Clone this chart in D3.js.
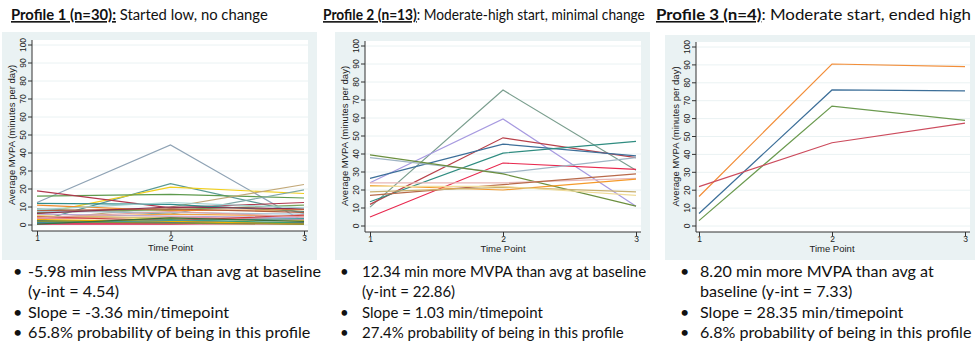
<!DOCTYPE html>
<html>
<head>
<meta charset="utf-8">
<script src="https://cdn.jsdelivr.net/npm/d3@7"></script>
<style>
  body { margin: 0; background: #fff; }
  svg { display: block; }
  .axis text { font-family: Arial, "Liberation Sans", sans-serif; font-size: 8.5px; fill: #222; }
  .axis line { stroke: #333; }
  .axis path { display: none; }
  .copy { font-family: Lato, "Open Sans", sans-serif; fill: #111; }
</style>
</head>
<body>
<div id="chart"></div>
<script>
// ---- data ----
const timePoints = [1, 2, 3];
const yTicks = [0, 10, 20, 30, 40, 50, 60, 70, 80, 90, 100];

// Profile 1 (n=30): one row per participant, MVPA at time 1,2,3
const profile1 = [
  [12.5, 44.5, 2], [2, 23, 6.5], [6, 21, 17.5], [16, 17, 15], [19, 9.5, 12.5],
  [3, 10, 22.5], [9, 6, 19.5], [12, 11.5, 7.5], [11, 8, 8.5], [7, 8.5, 11],
  [8, 9, 7], [5, 3.5, 2.5], [4, 6, 5], [2.5, 2, 1], [1, 1, 0.5],
  [6, 5, 4], [3.5, 4.5, 3], [1.5, 1.5, 1.5], [0.5, 0.5, 1], [7.5, 7, 6],
  [5, 4, 2], [2, 3, 1], [4.5, 2.5, 5.5], [6.5, 10, 9], [3, 2, 0.5],
  [1, 2.5, 3.5], [8.5, 12.5, 9.5], [2, 1, 0.5], [4, 7.5, 4.5], [0.5, 4, 2]
];
const colors1 = [
  '#8fa3b5', '#5a9a94', '#f2cf1d', '#5e9a4e', '#b0384e',
  '#c2a878', '#7fa8a6', '#2f8c8c', '#f08a2c', '#7aa35a',
  '#b06040', '#f5d000', '#f2a541', '#1f4b7a', '#e0304a',
  '#b7a6d8', '#e890a0', '#3a6fa0', '#d6204a', '#a8c4d8',
  '#d4c27a', '#3aa070', '#d04040', '#8a3050', '#f0b000',
  '#40a0a0', '#a0d0d0', '#809040', '#e0a0a0', '#3a7040'
];

// Profile 2 (n=13)
const profile2 = [
  [10.5, 75.5, 31], [24, 59.5, 11], [12, 49, 38], [26.5, 45.5, 39], [13.5, 40.5, 47],
  [5, 35, 31.5], [38, 29.5, 38], [39.5, 29, 11], [24, 24, 26.5], [17, 23, 29],
  [22.5, 20, 26], [19, 21.5, 19], [22, 22, 17]
];
const colors2 = [
  '#7a9e8e', '#a79ae0', '#b8404a', '#3d6f99', '#2f8c80',
  '#e8294f', '#9fb4c4', '#6b8f3e', '#e8b8b8', '#b86a4a',
  '#f59a2a', '#c9b070', '#f0dc9a'
];

// Profile 3 (n=4)
const profile3 = [
  [16.5, 90.5, 89], [7, 76, 75.5], [3, 67, 59], [22, 46.5, 57.5]
];
const colors3 = ['#f28e3a', '#3d6f99', '#6b9a4f', '#cc4b5d'];

const titleBold = ['Profile 1 (n=30):', 'Profile 2 (n=13)', 'Profile 3 (n=4)'];
const titleRest = [' Started low, no change', ': Moderate-high start, minimal change', ': Moderate start, ended high'];

const bullets = [
  [['-5.98 min less MVPA than avg at baseline', '(y-int = 4.54)'], ['Slope = -3.36 min/timepoint'], ['65.8% probability of being in this profile']],
  [['12.34 min more MVPA than avg at baseline', '(y-int = 22.86)'], ['Slope = 1.03 min/timepoint'], ['27.4% probability of being in this profile']],
  [['8.20 min more MVPA than avg at', 'baseline (y-int = 7.33)'], ['Slope = 28.35 min/timepoint'], ['6.8% probability of being in this profile']]
];

// ---- layout ----
const panels = [
  { series: profile1, colors: colors1, bg: [2, 32, 315, 228], axisX: 32, top: 40, base: 231, right: 308, y0: 225, y100: 45, x1: 37, x3: 304, titleX: 11, titleW: 257, bulletX: 13, textX: 28, fs: 16.2 },
  { series: profile2, colors: colors2, bg: [335, 32, 315, 228], axisX: 365, top: 41, base: 232, right: 641, y0: 226, y100: 46, x1: 370, x3: 636, titleX: 323, titleW: 322, bulletX: 340, textX: 362, fs: 15 },
  { series: profile3, colors: colors3, bg: [665, 35, 310, 225], axisX: 696, top: 42, base: 232, right: 970, y0: 226, y100: 47, x1: 699, x3: 965, titleX: 656, titleW: 315, bulletX: 680, textX: 700, fs: 16.1 }
];

const svg = d3.select('#chart')
  .append('svg')
  .attr('width', 976)
  .attr('height', 347);

svg.append('rect').attr('width', 976).attr('height', 347).attr('fill', '#fff');

panels.forEach((p, pi) => {
  const g = svg.append('g');

  g.append('rect')
    .attr('x', p.bg[0]).attr('y', p.bg[1])
    .attr('width', p.bg[2]).attr('height', p.bg[3])
    .attr('fill', '#eaf2f3');

  g.append('rect')
    .attr('x', p.axisX).attr('y', p.top)
    .attr('width', p.right - p.axisX).attr('height', p.base - p.top)
    .attr('fill', '#fff');

  const xScale = d3.scaleLinear().domain([1, 3]).range([p.x1, p.x3]);
  const yScale = d3.scaleLinear().domain([0, 100]).range([p.y0, p.y100]);

  // grid
  g.append('g')
    .selectAll('line')
    .data(yTicks)
    .join('line')
    .attr('x1', p.axisX).attr('x2', p.right)
    .attr('y1', d => yScale(d)).attr('y2', d => yScale(d))
    .attr('stroke', '#eaf2f3')
    .attr('stroke-width', 1);

  // lines
  const line = d3.line()
    .x((d, i) => xScale(timePoints[i]))
    .y(d => yScale(d));

  g.append('g')
    .selectAll('path')
    .data(p.series)
    .join('path')
    .attr('d', d => line(d))
    .attr('fill', 'none')
    .attr('stroke', (d, i) => p.colors[i % p.colors.length])
    .attr('stroke-width', 1.2);

  // axes
  const yAxis = g.append('g')
    .attr('class', 'axis')
    .attr('transform', 'translate(' + p.axisX + ',0)')
    .call(d3.axisLeft(yScale).tickValues(yTicks).tickSize(4).tickSizeOuter(0));
  yAxis.selectAll('.tick').attr('transform', null);
  yAxis.selectAll('.tick line')
    .attr('y1', d => yScale(d)).attr('y2', d => yScale(d));
  yAxis.selectAll('text')
    .attr('x', null).attr('y', 0).attr('dy', null)
    .attr('text-anchor', 'middle')
    .attr('transform', d => 'translate(-6,' + yScale(d) + ') rotate(-90)');

  const xAxis = g.append('g')
    .attr('class', 'axis')
    .attr('transform', 'translate(0,' + p.base + ')')
    .call(d3.axisBottom(xScale).tickValues(timePoints).tickSize(4).tickSizeOuter(0).tickFormat(d3.format('d')));
  xAxis.selectAll('text').attr('y', 4).attr('dy', '0.71em');

  g.append('line')
    .attr('x1', p.axisX).attr('x2', p.axisX)
    .attr('y1', p.top).attr('y2', p.base)
    .attr('stroke', '#333');
  g.append('line')
    .attr('x1', p.axisX).attr('x2', p.right)
    .attr('y1', p.base).attr('y2', p.base)
    .attr('stroke', '#333');

  g.append('text')
    .attr('x', xScale(2)).attr('y', p.base + 20)
    .attr('text-anchor', 'middle')
    .style('font-family', 'Arial, "Liberation Sans", sans-serif')
    .style('font-size', '9.5px')
    .style('fill', '#222')
    .text('Time Point');

  g.append('text')
    .attr('transform', 'translate(' + (p.axisX - 17) + ',' + yScale(50) + ') rotate(-90)')
    .attr('text-anchor', 'middle')
    .style('font-family', 'Arial, "Liberation Sans", sans-serif')
    .style('font-size', '9.5px')
    .style('fill', '#222')
    .text('Average MVPA (minutes per day)');

  // title: 16px, squeezed/stretched sideways to the width it has on the slide
  const title = g.append('text')
    .attr('class', 'copy')
    .attr('x', 0).attr('y', 0)
    .style('font-size', '16px');
  title.append('tspan')
    .style('font-weight', 'bold')
    .style('text-decoration', 'underline')
    .text(titleBold[pi]);
  title.append('tspan').text(titleRest[pi]);
  const w = title.node().getComputedTextLength();
  title.attr('transform', 'translate(' + p.titleX + ',20) scale(' + (p.titleW / w) + ',1)');

  // bullets
  let row = 0;
  bullets[pi].forEach(item => {
    g.append('text')
      .attr('class', 'copy')
      .attr('x', p.bulletX).attr('y', 277 + row * 20.3)
      .style('font-size', p.fs + 'px')
      .text('•');
    item.forEach(s => {
      g.append('text')
        .attr('class', 'copy')
        .attr('x', p.textX).attr('y', 277 + row * 20.3)
        .style('font-size', p.fs + 'px')
        .text(s);
      row++;
    });
  });
});
</script>
</body>
</html>
